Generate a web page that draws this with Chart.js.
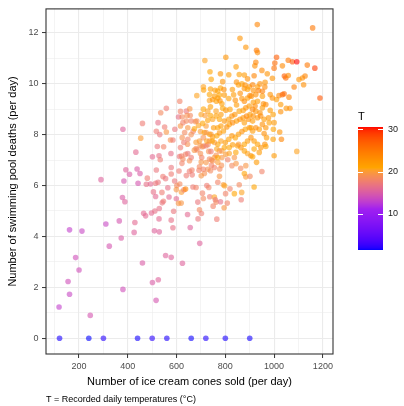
<!DOCTYPE html>
<html>
<head>
<meta charset="utf-8">
<script src="https://cdn.jsdelivr.net/npm/chart.js@4.4.1/dist/chart.umd.min.js"></script>
<style>
  body { margin: 0; background: #fff; }
  canvas { display: block; }
</style>
</head>
<body>
<canvas id="scatterChart" width="404" height="406"></canvas>
<script>
// days with no deaths recorded
const zeroCones = [120, 240, 300, 440, 500, 560, 660, 720, 800, 900];
const zeroTemps = [1.8, 1.5, 2.1, 1.7, 2.2, 1.9, 1.6, 2.0, 1.8, 1.7];

// ice cream cones sold per day
const cones = [
  118, 161, 155, 200, 186, 246, 161, 212, 310, 324,
  290, 365, 373, 378, 388, 384, 380, 380, 392, 407,
  433, 438, 450, 442, 429, 426, 460, 465, 473, 453,
  460, 480, 476, 493, 501, 501, 516, 525, 509, 529,
  497, 511, 528, 505, 514, 514, 524, 529, 540, 546,
  541, 555, 578, 578, 585, 588, 569, 564, 544, 555,
  517, 528, 533, 521, 547, 517, 531, 524, 535, 558,
  551, 558, 575, 577, 578, 578, 592, 601, 599, 599,
  608, 624, 645, 656, 695, 585, 593, 608, 613, 616,
  623, 616, 640, 654, 656, 612, 620, 626, 616, 610,
  622, 613, 620, 630, 637, 619, 640, 645, 646, 653,
  663, 664, 668, 677, 683, 667, 680, 687, 694, 688,
  702, 706, 710, 692, 694, 701, 703, 698, 697, 705,
  711, 721, 729, 732, 741, 714, 721, 724, 732, 739,
  743, 743, 755, 762, 736, 755, 750, 759, 762, 765,
  780, 792, 795, 808, 797, 801, 769, 776, 777, 784,
  769, 810, 819, 827, 837, 844, 857, 865, 867, 863,
  878, 884, 884, 901, 918, 950, 1093, 1000, 931, 1158,
  860, 884, 716, 802, 928, 932, 1010, 1058, 1075, 1093,
  1136, 1167, 1188, 737, 844, 780, 814, 857, 878, 891,
  918, 921, 925, 950, 972, 1000, 1003, 1034, 1042, 1048,
  1058, 1102, 1116, 1127, 1121, 1082, 993, 742, 710, 711,
  739, 758, 789, 780, 794, 769, 829, 846, 854, 868,
  881, 898, 912, 932, 942, 963, 962, 936, 915, 891,
  878, 861, 834, 814, 796, 776, 756, 735, 735, 748,
  763, 778, 769, 786, 802, 819, 841, 846, 868, 878,
  891, 901, 907, 915, 925, 952, 952, 984, 993, 1010,
  1020, 1034, 1041, 1061, 1050, 1065, 1027, 984, 996, 1027,
  966, 952, 942, 925, 912, 898, 884, 873, 857, 839,
  827, 814, 796, 776, 782, 769, 752, 748, 728, 721,
  707, 690, 683, 673, 698, 714, 735, 748, 765, 776,
  792, 806, 816, 830, 846, 860, 873, 887, 901, 914,
  932, 945, 959, 952, 966, 980, 1000, 997, 1023, 1030,
  996, 969, 959, 939, 925, 912, 898, 882, 868, 854,
  841, 827, 814, 800, 782, 769, 755, 816, 830, 850,
  864, 878, 891, 905, 918, 932, 946, 962, 966, 939,
  918, 905, 912, 928, 891, 878, 854, 843, 816, 837,
  905, 977, 956, 932, 922, 912, 895, 878, 637, 653,
  660, 673, 684, 694, 710, 724, 735, 741, 721, 746,
  786, 776, 765, 796, 802, 786, 769, 748, 735, 755,
  728, 710, 701, 680, 680, 660, 646, 633, 623, 630,
  646, 660, 640, 643, 626, 701, 710, 728, 739, 717,
  739, 762, 762, 782, 789
];

// swimming pool deaths per day
const deaths = [
  1.23, 1.73, 2.23, 2.68, 3.17, 0.9, 4.26, 4.21, 4.49, 3.62,
  6.23, 4.61, 3.94, 5.53, 5.36, 6.18, 8.21, 1.92, 6.62, 6.44,
  7.31, 6.65, 6.47, 6.09, 4.55, 4.16, 2.96, 4.91, 4.81, 7.86,
  8.44, 6.29, 6.05, 6.06, 7.13, 2.19, 1.49, 2.30, 4.22, 4.18,
  4.92, 5.0, 4.69, 5.75, 5.57, 6.09, 6.13, 5.10, 5.73, 5.38,
  5.32, 3.25, 3.18, 4.64, 4.34, 4.99, 5.55, 5.91, 6.35, 6.27,
  6.61, 7.17, 7.01, 7.53, 7.52, 8.13, 8.0, 8.47, 8.86, 9.03,
  8.3, 8.1, 7.79, 7.26, 6.71, 6.45, 6.18, 6.0, 5.84, 5.48,
  5.30, 2.95, 4.86, 4.35, 3.73, 7.79, 8.21, 8.69, 9.31, 8.91,
  8.69, 8.34, 8.92, 9.01, 8.75, 7.14, 7.16, 7.04, 7.49, 6.57,
  6.87, 6.06, 5.74, 5.83, 5.86, 5.31, 6.39, 7.62, 7.26, 6.56,
  6.61, 6.42, 8.13, 8.51, 9.53, 5.94, 5.92, 5.35, 5.05, 4.69,
  4.90, 5.70, 5.49, 6.60, 6.74, 6.92, 7.10, 7.26, 7.57, 7.52,
  7.55, 7.56, 7.61, 7.34, 7.34, 6.47, 6.90, 6.0, 5.92, 6.58,
  7.0, 6.79, 7.10, 7.19, 5.56, 5.55, 5.19, 5.44, 5.35, 4.68,
  5.36, 6.03, 5.13, 5.31, 5.99, 5.68, 6.13, 6.36, 6.65, 6.79,
  6.91, 7.01, 5.87, 6.78, 5.68, 6.86, 6.03, 5.44, 5.73, 6.68,
  6.47, 6.78, 6.34, 6.36, 5.94, 6.55, 7.34, 7.17, 12.32, 12.19,
  11.78, 11.43, 10.91, 11.04, 11.31, 11.22, 11.04, 10.92, 10.86, 10.86,
  10.73, 10.61, 9.44, 10.47, 10.66, 10.39, 10.35, 10.36, 10.34, 10.19,
  10.31, 10.70, 10.84, 10.52, 10.39, 10.61, 10.81, 10.70, 10.30, 10.22,
  10.32, 10.16, 10.22, 10.30, 9.96, 9.87, 10.21, 10.17, 9.88, 9.75,
  9.79, 9.74, 10.08, 9.83, 9.77, 9.71, 9.77, 10.06, 9.95, 9.99,
  9.95, 9.88, 9.96, 9.88, 9.99, 10.05, 9.87, 9.73, 9.73, 9.78,
  9.81, 9.62, 9.56, 9.42, 9.55, 9.55, 9.51, 9.57, 9.34, 9.38,
  9.31, 9.33, 9.44, 9.21, 8.96, 8.99, 9.35, 9.16, 9.42, 9.31,
  9.44, 9.53, 9.51, 9.27, 9.57, 9.51, 9.70, 9.57, 9.44, 9.38,
  9.53, 9.57, 9.60, 9.47, 9.03, 9.03, 9.18, 8.95, 8.79, 8.90,
  9.18, 9.05, 8.86, 8.92, 8.99, 9.12, 9.05, 8.95, 8.92, 8.79,
  8.73, 8.60, 8.53, 8.60, 8.34, 8.27, 8.27, 8.60, 8.56, 8.34,
  8.44, 8.36, 8.53, 8.23, 8.12, 8.08, 8.01, 7.91, 7.95, 8.06,
  8.14, 8.30, 8.40, 8.47, 8.53, 8.60, 8.66, 8.73, 8.79, 8.73,
  8.66, 8.73, 8.60, 8.40, 8.27, 8.47, 8.47, 8.21, 8.10, 7.82,
  7.82, 7.88, 8.04, 8.21, 8.27, 8.14, 8.27, 8.21, 8.12, 8.01,
  7.88, 7.95, 7.82, 7.69, 7.75, 7.62, 7.69, 7.49, 7.60, 7.56,
  7.49, 7.62, 7.75, 7.88, 7.75, 7.62, 7.49, 7.62, 7.53, 7.30,
  7.43, 7.17, 7.13, 6.91, 7.26, 7.36, 7.62, 7.30, 7.26, 7.10,
  8.27, 8.66, 9.21, 9.31, 9.12, 8.53, 8.60, 8.47, 7.23, 6.97,
  7.10, 7.39, 7.40, 7.75, 7.88, 7.75, 7.75, 8.01, 8.08, 7.75,
  7.36, 7.36, 7.43, 7.49, 7.23, 7.10, 7.10, 6.97, 7.04, 6.71,
  6.64, 6.64, 6.38, 7.45, 7.70, 8.0, 7.82, 8.08, 7.88, 7.69,
  8.27, 8.53, 8.53, 8.75, 8.47, 8.79, 9.0, 8.92, 9.09, 8.75,
  8.75, 8.92, 8.73, 8.79, 9.03
];

// recorded daily temperature (°C)
const temps = [
  13, 13.5, 14, 14, 14, 14.5, 13, 13.5, 13.5, 14.5,
  15.5, 14.5, 15, 15, 15.5, 14.5, 15.5, 14, 15.5, 15,
  16, 15, 15, 14.5, 16, 15.5, 15, 16, 16, 20,
  17.5, 17.5, 16.5, 16, 16, 15, 14.5, 15.5, 15.5, 15.5,
  16, 16.5, 16, 16.5, 16, 17, 17, 16.5, 17.5, 17.5,
  17, 15.5, 15.5, 16.5, 16.5, 17, 16, 16.5, 17.5, 17,
  17, 16.5, 17.5, 17, 18, 17.5, 17, 16.5, 18.5, 17.5,
  17.5, 19.5, 19, 16.5, 17, 17.5, 17, 18.5, 19.5, 16,
  19.5, 15.5, 16, 15.5, 15.5, 17.5, 17, 16.5, 18, 18,
  18.5, 19.5, 17, 19.5, 18.5, 17, 18, 18.5, 17.5, 17.5,
  18, 18.5, 20, 18, 24, 19.5, 17.5, 19, 17, 17.5,
  18, 17.5, 18, 19, 20.5, 17.5, 18, 17, 18.5, 17,
  17.5, 18, 18.5, 18, 18.5, 19.5, 18, 19, 19.5, 18.5,
  19, 17.5, 18.5, 19, 17.5, 19, 19.5, 17.5, 18, 18.5,
  19.5, 18, 20, 19, 17.5, 20.5, 18, 17, 18.5, 17.5,
  16.5, 20, 19.5, 18, 20.5, 18, 18, 19.5, 18.5, 19,
  20, 18, 18, 18.5, 21, 19.5, 18.5, 17.5, 20.5, 18.5,
  21, 19.5, 20, 18.5, 21, 18, 20.5, 22, 24, 25,
  22.5, 22.5, 20.5, 22.5, 25, 23.5, 27, 25, 27.5, 30.5,
  25, 29, 27.5, 21, 22, 22.5, 22, 21.5, 22, 23,
  24, 23, 24, 23.5, 22.5, 25.5, 26, 23.5, 27, 26,
  23.5, 22.5, 23, 24, 23, 24.5, 22.5, 21, 20.5, 21.5,
  21.5, 22, 22.5, 21, 23, 21.5, 22, 23, 22, 21.5,
  23, 22.5, 24, 22, 23, 22.5, 23.5, 24.5, 23, 21.5,
  22.5, 23, 22, 21.5, 22, 21, 22, 21, 20.5, 22.5,
  21.5, 23, 22, 21.5, 22.5, 21.5, 23, 22, 22.5, 23.5,
  22, 24, 23, 22, 23, 22, 24.5, 22.5, 23, 22,
  23.5, 26.5, 26, 24, 22.5, 23, 22, 22, 21.5, 23,
  23.5, 22, 23, 22.5, 24, 22, 23, 22, 21.5, 22.5,
  23, 22, 22.5, 21, 22, 21.5, 22, 20.5, 21.5, 20,
  21, 20.5, 19, 21, 20, 21.5, 21, 22, 21, 22.5,
  21.5, 23, 22, 23.5, 22, 23, 22.5, 24, 22, 23,
  22.5, 23.5, 22, 23, 22.5, 21.5, 22, 21, 22.5, 24,
  21.5, 22, 23, 22, 23.5, 22, 22.5, 21.5, 23, 22,
  21, 22.5, 21.5, 22, 20.5, 21, 20, 21, 22, 21.5,
  22.5, 21, 22, 23, 22, 21.5, 22.5, 23, 21.5, 22,
  21, 22.5, 21, 22, 20.5, 21.5, 20, 21, 20.5, 19.5,
  22, 22.5, 23, 22, 23.5, 22, 23, 22, 18, 19,
  17.5, 19.5, 18.5, 20, 19, 20.5, 19.5, 20, 19.5, 21,
  20, 19, 20.5, 21, 20, 19.5, 21, 19, 18.5, 18,
  19, 18, 19.5, 18.5, 20, 19, 18, 18.5, 19, 17.5,
  19.5, 18, 18.5, 19, 18, 20.5, 21, 20.5, 21.5, 20,
  21, 20.5, 21.5, 22, 21
];

const xTickValues = [100, 200, 300, 400, 500, 600, 700, 800, 900, 1000, 1100, 1200];
const yTickValues = [0, 1, 2, 3, 4, 5, 6, 7, 8, 9, 10, 11, 12];
const legendTicks = [10, 20, 30];

const paletteStops = ['#0000FF', '#A020F0', '#FFA500', '#FF0000'];
const FONT = '"Liberation Sans", Arial, sans-serif';

// colour interpolation in CIE Lab, like scales::gradient_n_pal
function toLinear(c) {
    c /= 255;
    return c <= 0.04045 ? c / 12.92 : Math.pow((c + 0.055) / 1.055, 2.4);
}
function fromLinear(c) {
    const v = c <= 0.0031308 ? 12.92 * c : 1.055 * Math.pow(c, 1 / 2.4) - 0.055;
    return Math.round(Math.min(1, Math.max(0, v)) * 255);
}
function hexToLab(hex) {
    const r = toLinear(parseInt(hex.slice(1, 3), 16));
    const g = toLinear(parseInt(hex.slice(3, 5), 16));
    const b = toLinear(parseInt(hex.slice(5, 7), 16));
    const x = (0.4124 * r + 0.3576 * g + 0.1805 * b) / 0.95047;
    const y = 0.2126 * r + 0.7152 * g + 0.0722 * b;
    const z = (0.0193 * r + 0.1192 * g + 0.9505 * b) / 1.08883;
    const f = t => t > 0.008856 ? Math.cbrt(t) : 7.787 * t + 16 / 116;
    return [116 * f(y) - 16, 500 * (f(x) - f(y)), 200 * (f(y) - f(z))];
}
function labToRgb(lab) {
    const fy = (lab[0] + 16) / 116;
    const fx = fy + lab[1] / 500;
    const fz = fy - lab[2] / 200;
    const inv = t => t * t * t > 0.008856 ? t * t * t : (t - 16 / 116) / 7.787;
    const x = inv(fx) * 0.95047, y = inv(fy), z = inv(fz) * 1.08883;
    return [
        fromLinear(3.2406 * x - 1.5372 * y - 0.4986 * z),
        fromLinear(-0.9689 * x + 1.8758 * y + 0.0415 * z),
        fromLinear(0.0557 * x - 0.2040 * y + 1.0570 * z)
    ];
}

const labStops = paletteStops.map(hexToLab);
const allTemps = zeroTemps.concat(temps);
const tMin = Math.min(...allTemps);
const tMax = Math.max(...allTemps);

function tempColour(t, alpha) {
    const p = Math.min(1, Math.max(0, (t - tMin) / (tMax - tMin))) * (labStops.length - 1);
    const i = Math.min(labStops.length - 2, Math.floor(p));
    const f = p - i;
    const lab = labStops[i].map((v, k) => v + (labStops[i + 1][k] - v) * f);
    const rgb = labToRgb(lab);
    return `rgba(${rgb[0]}, ${rgb[1]}, ${rgb[2]}, ${alpha})`;
}

const points = [];
const pointTemps = [];
zeroCones.forEach((c, i) => { points.push({ x: c, y: 0 }); pointTemps.push(zeroTemps[i]); });
cones.forEach((c, i) => { points.push({ x: c, y: deaths[i] }); pointTemps.push(temps[i]); });

// ggplot-style 5% expansion of the data range
const xs = points.map(p => p.x), ys = points.map(p => p.y);
const xSpan = Math.max(...xs) - Math.min(...xs);
const ySpan = Math.max(...ys) - Math.min(...ys);

// panel border, caption and colour bar
const decorations = {
    id: 'decorations',
    afterDatasetsDraw(chart) {
        const { ctx, chartArea } = chart;
        ctx.save();
        ctx.strokeStyle = '#333333';
        ctx.lineWidth = 1.1;
        ctx.strokeRect(chartArea.left, chartArea.top, chartArea.right - chartArea.left, chartArea.bottom - chartArea.top);

        ctx.fillStyle = '#000';
        ctx.font = `9px ${FONT}`;
        ctx.textAlign = 'left';
        ctx.textBaseline = 'middle';
        ctx.fillText('T = Recorded daily temperatures (°C)', 46, 400);

        const barLeft = 358, barWidth = 25, barTop = 127, barBottom = 250;
        const yOf = t => barBottom - (t - tMin) / (tMax - tMin) * (barBottom - barTop);
        for (let y = barTop; y < barBottom; y++) {
            const t = tMax - (y + 0.5 - barTop) / (barBottom - barTop) * (tMax - tMin);
            ctx.fillStyle = tempColour(t, 1);
            ctx.fillRect(barLeft, y, barWidth, 1);
        }
        ctx.strokeStyle = '#ffffff';
        ctx.lineWidth = 1;
        legendTicks.forEach(t => {
            const y = Math.round(yOf(t)) + 0.5;
            ctx.beginPath();
            ctx.moveTo(barLeft, y); ctx.lineTo(barLeft + 5, y);
            ctx.moveTo(barLeft + barWidth - 5, y); ctx.lineTo(barLeft + barWidth, y);
            ctx.stroke();
        });

        ctx.fillStyle = '#1a1a1a';
        ctx.font = `9px ${FONT}`;
        legendTicks.forEach(t => ctx.fillText(String(t), barLeft + barWidth + 5, yOf(t)));
        ctx.fillStyle = '#000';
        ctx.font = `11px ${FONT}`;
        ctx.fillText('T', barLeft, 117);
        ctx.restore();
    }
};

const isMajor = (c, step) => c.tick && c.tick.value % step === 0;

const ctx = document.getElementById('scatterChart').getContext('2d');
const scatterChart = new Chart(ctx, {
    type: 'scatter',
    data: {
        datasets: [{
            data: points,
            backgroundColor: pointTemps.map(t => tempColour(t, 0.6)),
            borderWidth: 0,
            pointRadius: 2.8,
            pointHoverRadius: 2.8
        }]
    },
    options: {
        responsive: false,
        animation: false,
        events: [],
        layout: { padding: { left: 0, right: 71, top: 6, bottom: 0 } },
        plugins: {
            legend: { display: false },
            tooltip: { enabled: false }
        },
        scales: {
            x: {
                type: 'linear',
                min: Math.min(...xs) - 0.05 * xSpan,
                max: Math.max(...xs) + 0.05 * xSpan,
                afterBuildTicks: scale => { scale.ticks = xTickValues.map(v => ({ value: v })); },
                afterFit: scale => { scale.height = 52; },
                border: { display: false },
                grid: {
                    color: '#ebebeb',
                    lineWidth: c => isMajor(c, 200) ? 1.1 : 0.55,
                    tickColor: c => isMajor(c, 200) ? '#333333' : 'rgba(0,0,0,0)',
                    tickLength: 4,
                    tickWidth: 1
                },
                ticks: {
                    autoSkip: false,
                    maxRotation: 0,
                    padding: 3,
                    color: '#4d4d4d',
                    font: { family: FONT, size: 9 },
                    callback: v => v % 200 === 0 ? String(v) : ''
                },
                title: {
                    display: true,
                    text: 'Number of ice cream cones sold (per day)',
                    color: '#000',
                    font: { family: FONT, size: 11 },
                    padding: { top: 0, bottom: 17.4 }
                }
            },
            y: {
                type: 'linear',
                min: Math.min(...ys) - 0.05 * ySpan,
                max: Math.max(...ys) + 0.05 * ySpan,
                afterBuildTicks: scale => { scale.ticks = yTickValues.map(v => ({ value: v })); },
                afterFit: scale => { scale.width = 46; },
                border: { display: false },
                grid: {
                    color: '#ebebeb',
                    lineWidth: c => isMajor(c, 2) ? 1.1 : 0.55,
                    tickColor: c => isMajor(c, 2) ? '#333333' : 'rgba(0,0,0,0)',
                    tickLength: 4,
                    tickWidth: 1
                },
                ticks: {
                    autoSkip: false,
                    padding: 3.5,
                    color: '#4d4d4d',
                    font: { family: FONT, size: 9 },
                    callback: v => v % 2 === 0 ? String(v) : ''
                },
                title: {
                    display: true,
                    text: 'Number of swimming pool deaths (per day)',
                    color: '#000',
                    font: { family: FONT, size: 11 },
                    padding: { top: 6.4, bottom: 0 }
                }
            }
        }
    },
    plugins: [decorations]
});
</script>
</body>
</html>
